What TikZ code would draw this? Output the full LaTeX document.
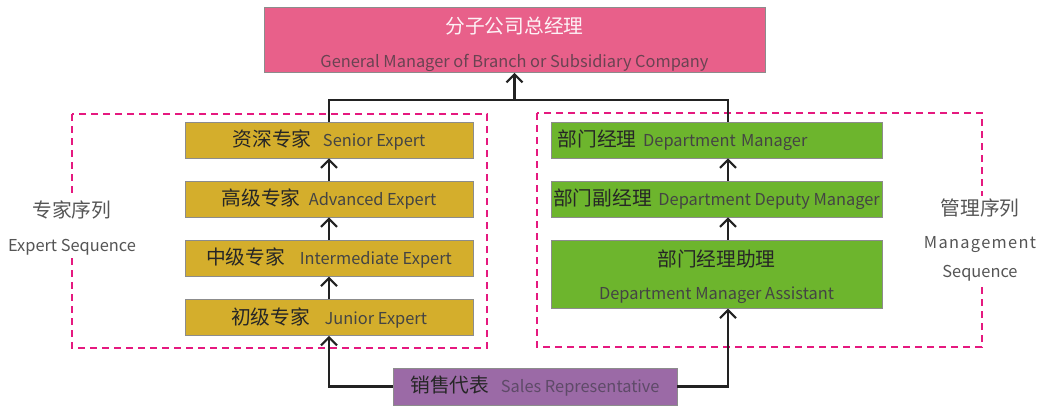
\documentclass[tikz,border=0pt]{standalone}
\usepackage{fontspec}
\setmainfont{Noto Sans CJK SC}
\usepackage{tikz}
\usetikzlibrary{positioning, arrows.meta}
\usepackage{xcolor}
\definecolor{gmpink}{HTML}{E8608A}
\definecolor{expyellow}{HTML}{D4AE2C}
\definecolor{mgrgreen}{HTML}{6DB52D}
\definecolor{salespurple}{HTML}{9B6AA6}
\definecolor{seqmagenta}{HTML}{E5197F}
\definecolor{linegray}{HTML}{222222}
\definecolor{labelgray}{HTML}{555555}
\definecolor{zhdark}{HTML}{262626}
\definecolor{entext}{HTML}{444444}
\definecolor{gmtext}{HTML}{6A4352}
\definecolor{salestext}{HTML}{5E4A68}
\newcommand{\zhfont}{\fontsize{14.8pt}{17pt}\selectfont}
\newcommand{\zh}[1]{{\zhfont\color{zhdark}#1}}

\begin{document}
\begin{tikzpicture}[x=0.75pt, y=-0.75pt,
		font=\fontsize{12.3pt}{15pt}\selectfont,
		rank/.style={
			rectangle,
			draw=black!45, thin,
			inner sep=0pt,
			text=entext,
			text centered},
		expbox/.style={rank, fill=expyellow, minimum width=216pt, minimum height=27pt},
		mgrbox/.style={rank, fill=mgrgreen, minimum width=248.25pt, minimum height=27pt},
		seqbox/.style={draw=seqmagenta, line width=2.1pt, dash pattern=on 5.5pt off 3.5pt},
		seqlabel/.style={fill=white, text=labelgray, align=center, inner sep=2pt},
		link/.style={draw=linegray, line width=1.6pt},
		arrow/.style={link, -{Straight Barb[length=6pt, width=12pt, line width=1.6pt]}},
		node distance=17pt]
		\useasboundingbox (0,0) rectangle (1040,405);
		\node[rank, fill=gmpink, minimum width=375.75pt, minimum height=48.75pt, align=center, text=gmtext] (gm) at (514.5,40)
			{\rule{0pt}{19pt}{\zhfont\color{white!92!gmpink}分子公司总经理}\\[10pt]General Manager of Branch or Subsidiary Company};
		\node[expbox] (senior) at (329,140) {\zh{资深专家}\hspace{0.7em}Senior Expert};
		\node[expbox, below=of senior] (advanced) {\zh{高级专家}\hspace{0.5em}Advanced Expert};
		\node[expbox, below=of advanced] (middle) {\zh{中级专家}\hspace{0.9em}Intermediate Expert};
		\node[expbox, below=of middle] (junior) {\zh{初级专家}\hspace{0.9em}Junior Expert};
		\node[mgrbox, align=left, inner xsep=5pt, text width=238.25pt] (deptmgr) at (716.5,140)
			{\zh{部门经理}\hspace{0.4em}Department Manager};
		\node[mgrbox, below=of deptmgr] (deputy) {\zh{部门副经理}\hspace{0.4em}Department Deputy Manager};
		\node[mgrbox, below=of deputy, minimum height=51pt, align=center] (assistant)
			{\rule{0pt}{16pt}\zh{部门经理助理}\\[10pt]Department Manager Assistant};
		\node[rank, fill=salespurple, minimum width=213pt, minimum height=27.75pt, text=salestext] (sales) at (535,386.5)
			{\zh{销售代表}\hspace{0.7em}Sales Representative};
		\coordinate (mcol) at (728,0);
		\coordinate (split) at (gm.south |- 0,100);
		% sequences
		\draw[seqbox] (72,114) rectangle (487,348);
		\draw[seqbox] (537,113) rectangle (982,347);
		\node[seqlabel] (expertlbl) at (72,228) {{\zhfont 专家序列}\\[10pt]Expert Sequence};
		\node[seqlabel] (mgmtlbl) at (980,240)
			{{\zhfont 管理序列}\\[10pt]{\addfontfeature{LetterSpace=8}Management}\\[7pt]Sequence};
		\draw[link] (senior.north) |- (split) -| (deptmgr.north -| mcol);
		\draw[arrow] (split) -- (gm.south);
		\draw[arrow] (advanced) -- (senior);
		\draw[arrow] (middle) -- (advanced);
		\draw[arrow] (junior) -- (middle);
		\draw[arrow] (deputy.north -| mcol) -- (deptmgr.south -| mcol);
		\draw[arrow] (assistant.north -| mcol) -- (deputy.south -| mcol);
		\draw[arrow] (sales.west) -| (junior.south);
		\draw[arrow] (sales.east) -| (assistant.south -| mcol);
\end{tikzpicture}
\end{document}
